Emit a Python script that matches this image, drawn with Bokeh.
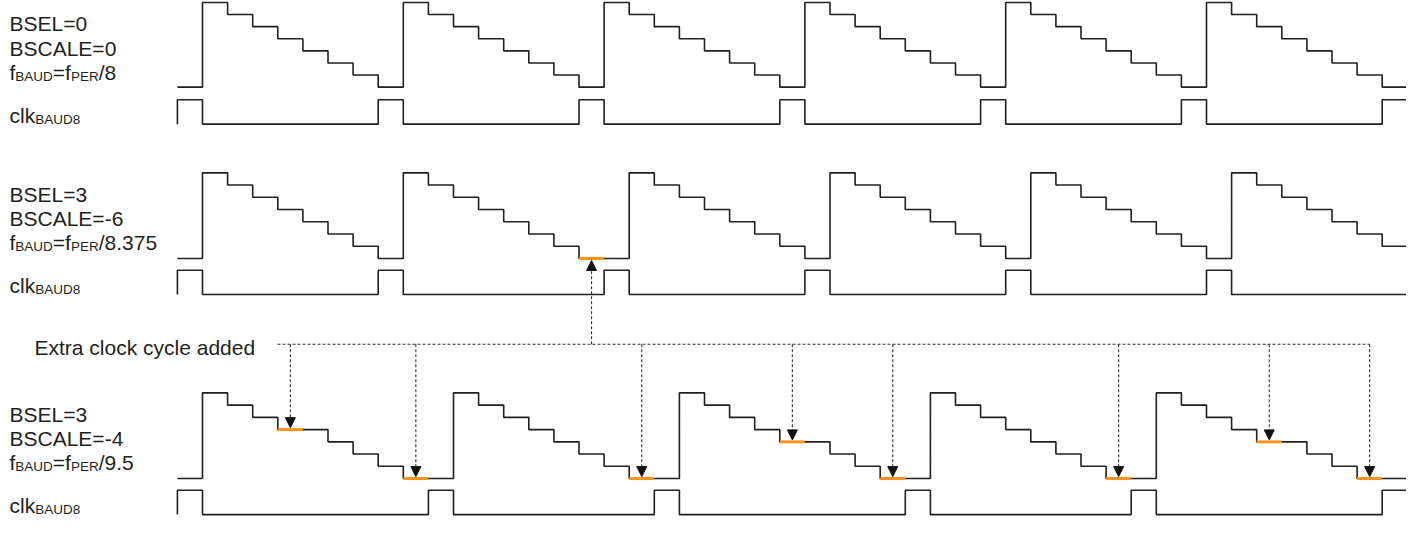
from bokeh.plotting import figure
from bokeh.models import ColumnDataSource, Range1d, Arrow, NormalHead
from bokeh.core.properties import value
from bokeh.embed import file_html
from bokeh.resources import INLINE

# ---------------- data ----------------
# counter level per clock cycle, cycle index -1 .. 47
ROW1_LEVELS = [0,
               7, 6, 5, 4, 3, 2, 1, 0,
               7, 6, 5, 4, 3, 2, 1, 0,
               7, 6, 5, 4, 3, 2, 1, 0,
               7, 6, 5, 4, 3, 2, 1, 0,
               7, 6, 5, 4, 3, 2, 1, 0,
               7, 6, 5, 4, 3, 2, 1, 0]
ROW2_LEVELS = [0,
               7, 6, 5, 4, 3, 2, 1, 0,
               7, 6, 5, 4, 3, 2, 1, 0, 0,
               7, 6, 5, 4, 3, 2, 1, 0,
               7, 6, 5, 4, 3, 2, 1, 0,
               7, 6, 5, 4, 3, 2, 1, 0,
               7, 6, 5, 4, 3, 2, 1]
ROW3_LEVELS = [0,
               7, 6, 5, 4, 4, 3, 2, 1, 0, 0,
               7, 6, 5, 4, 3, 2, 1, 0, 0,
               7, 6, 5, 4, 3, 3, 2, 1, 0, 0,
               7, 6, 5, 4, 3, 2, 1, 0, 0,
               7, 6, 5, 4, 3, 3, 2, 1, 0, 0]
# clkBAUD8 per clock cycle, cycle index -1 .. 47
ROW1_CLK = [1,
            0, 0, 0, 0, 0, 0, 0, 1,
            0, 0, 0, 0, 0, 0, 0, 1,
            0, 0, 0, 0, 0, 0, 0, 1,
            0, 0, 0, 0, 0, 0, 0, 1,
            0, 0, 0, 0, 0, 0, 0, 1,
            0, 0, 0, 0, 0, 0, 0, 1]
ROW2_CLK = [1,
            0, 0, 0, 0, 0, 0, 0, 1,
            0, 0, 0, 0, 0, 0, 0, 0, 1,
            0, 0, 0, 0, 0, 0, 0, 1,
            0, 0, 0, 0, 0, 0, 0, 1,
            0, 0, 0, 0, 0, 0, 0, 1,
            0, 0, 0, 0, 0, 0, 0]
ROW3_CLK = [1,
            0, 0, 0, 0, 0, 0, 0, 0, 0, 1,
            0, 0, 0, 0, 0, 0, 0, 0, 1,
            0, 0, 0, 0, 0, 0, 0, 0, 0, 1,
            0, 0, 0, 0, 0, 0, 0, 0, 1,
            0, 0, 0, 0, 0, 0, 0, 0, 0, 1]
# cycles where an extra clock cycle is inserted
ROW2_EXTRA = [15]
ROW3_EXTRA = [3, 8, 17, 23, 27, 36, 42, 46]

ROW_LABELS = [
    ["BSEL=0", "BSCALE=0", [("f", 0), ("BAUD", 1), ("=f", 0), ("PER", 1), ("/8", 0)]],
    ["BSEL=3", "BSCALE=-6", [("f", 0), ("BAUD", 1), ("=f", 0), ("PER", 1), ("/8.375", 0)]],
    ["BSEL=3", "BSCALE=-4", [("f", 0), ("BAUD", 1), ("=f", 0), ("PER", 1), ("/9.5", 0)]],
]
CLK_LABEL = [("clk", 0), ("BAUD8", 1)]
NOTE = "Extra clock cycle added"

# ---------------- layout (pixel geometry of the reference) ----------------
W, H = 1406, 517
X0_PX, CYC_PX = 203.0, 25.1
T_START = -1
X_SHIFT = 1
def tx(px):
    return (px - X0_PX) / CYC_PX

ROW_LOW = [90, 266, 492]
ROW_TOP = [3, 178, 404]
CLK_HI = [103, 278, 504]
CLK_LO = [128, 303, 529]
ROW_OFF = [0, 175, 401]
TEXT_DY = -4

LINE_C = "#231f20"
ORANGE = "#f7941d"
FONT = "Liberation Sans"
FS_MAIN, FS_SUB = 21.0, 13.5

p = figure(width=W, height=H, output_backend="svg", toolbar_location=None,
           x_range=Range1d(tx(X_SHIFT), tx(X_SHIFT + W)), y_range=Range1d(532, 1),
           min_border=0)
p.axis.visible = False
p.grid.visible = False
p.outline_line_color = None
p.background_fill_color = "white"
p.border_fill_color = "white"


def stairs(values, ymap, start_low=None, end_low=None):
    xs, ys = [], []
    if start_low is not None:
        xs.append(T_START); ys.append(start_low)
    for i, v in enumerate(values):
        t = T_START + i
        xs += [t, t + 1]
        ys += [ymap(v), ymap(v)]
    if end_low is not None:
        xs.append(T_START + len(values)); ys.append(end_low)
    return xs, ys


level_rows = [ROW1_LEVELS, ROW2_LEVELS, ROW3_LEVELS]
clk_rows = [ROW1_CLK, ROW2_CLK, ROW3_CLK]
extras = [[], ROW2_EXTRA, ROW3_EXTRA]

for r in range(3):
    step = (ROW_LOW[r] - ROW_TOP[r]) / 7.0
    ymap = lambda v, r=r, step=step: ROW_LOW[r] - v * step
    xs, ys = stairs(level_rows[r], ymap)
    p.line(xs, ys, line_color=LINE_C, line_width=1.6)
    cmap = lambda v, r=r: CLK_HI[r] if v else CLK_LO[r]
    xs, ys = stairs(clk_rows[r], cmap, start_low=CLK_LO[r], end_low=CLK_LO[r])
    p.line(xs, ys, line_color=LINE_C, line_width=1.6)
    # orange extra cycles
    if extras[r]:
        ex0 = extras[r]
        ex1 = [t + 1 for t in ex0]
        ey = [ymap(level_rows[r][t - T_START]) for t in ex0]
        p.segment(x0=ex0, y0=ey, x1=ex1, y1=ey, line_color=ORANGE, line_width=3)

# ---------------- dashed connector + arrows ----------------
NOTE_Y = 354
conn_left = tx(278)
conn_right = ROW3_EXTRA[-1] + 0.5
p.segment(x0=[conn_left], y0=[NOTE_Y], x1=[conn_right], y1=[NOTE_Y],
          line_color="#333333", line_width=1.1, line_dash="3 2")

def add_arrow(x, y0, y1):
    p.add_layout(Arrow(end=NormalHead(size=10, fill_color="#111111",
                                      line_color="#111111", line_width=1),
                       x_start=x, y_start=y0, x_end=x, y_end=y1,
                       line_color="#333333", line_width=1.1, line_dash="3 2"))

for t in ROW3_EXTRA:
    step = (ROW_LOW[2] - ROW_TOP[2]) / 7.0
    lvl = ROW3_LEVELS[t - T_START]
    add_arrow(t + 0.5, NOTE_Y, ROW_LOW[2] - lvl * step - 2)
for t in ROW2_EXTRA:
    step = (ROW_LOW[1] - ROW_TOP[1]) / 7.0
    lvl = ROW2_LEVELS[t - T_START]
    add_arrow(t + 0.5, NOTE_Y, ROW_LOW[1] - lvl * step + 2)

# ---------------- texts ----------------
WID = {"A": .667, "B": .667, "C": .722, "D": .722, "E": .667, "L": .556, "P": .667,
       "R": .722, "S": .667, "U": .722, "a": .556, "c": .5, "d": .556, "e": .556,
       "f": .278, "k": .5, "l": .222, "o": .556, "r": .333, "t": .278, "x": .5,
       "y": .5, "=": .584, "/": .278, ".": .278, "-": .333, " ": .278}
def text_w(s, fs):
    return sum(WID.get(c, .556) for c in s) * fs

main = {"x": [], "y": [], "text": []}
sub = {"x": [], "y": [], "text": []}

def put_pieces(pieces, x_px, base):
    for s, is_sub in pieces:
        d = sub if is_sub else main
        d["x"].append(tx(x_px))
        d["y"].append(base + TEXT_DY + (4 if is_sub else 0))
        d["text"].append(s)
        x_px += text_w(s, FS_SUB if is_sub else FS_MAIN)

TX_PX = 10
for r in range(3):
    o = ROW_OFF[r]
    l1, l2, l3 = ROW_LABELS[r]
    put_pieces([(l1, 0)], TX_PX, 29 + o)
    put_pieces([(l2, 0)], TX_PX, 54 + o)
    put_pieces(l3, TX_PX, 79 + o)
    put_pieces(CLK_LABEL, TX_PX, 123 + o)
put_pieces([(NOTE, 0)], 35, 361)

p.text(x="x", y="y", text="text", source=ColumnDataSource(main),
       text_font=value(FONT), text_font_size=value(f"{FS_MAIN}px"),
       text_color=LINE_C, text_baseline="alphabetic", text_align="left")
p.text(x="x", y="y", text="text", source=ColumnDataSource(sub),
       text_font=value(FONT), text_font_size=value(f"{FS_SUB}px"),
       text_color=LINE_C, text_baseline="alphabetic", text_align="left")

open("out.html", "w").write(file_html(p, INLINE))
